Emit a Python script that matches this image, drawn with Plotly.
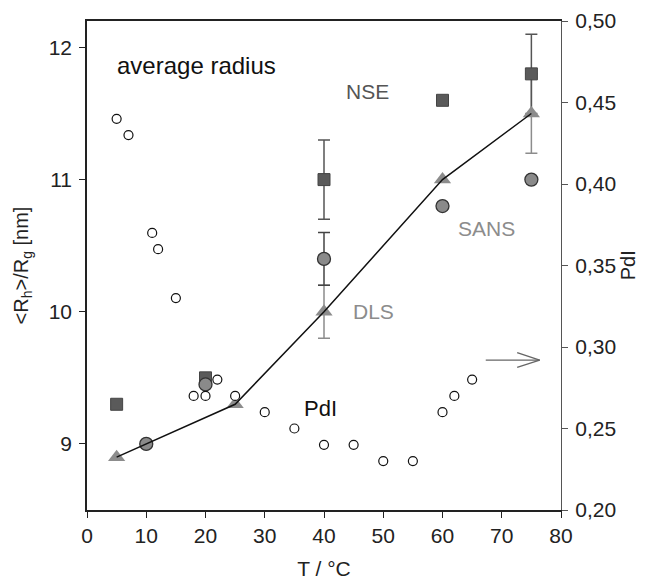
import plotly.graph_objects as go

# ---- data ----
dls_T = [5, 25, 40, 60, 75]
dls_R = [8.9, 9.3, 10.0, 11.0, 11.5]
dls_err_T = [40, 75]
dls_err_R = [10.0, 11.5]
dls_err = [0.2, 0.3]

nse_T = [5, 20, 40, 60, 75]
nse_R = [9.3, 9.5, 11.0, 11.6, 11.8]
nse_err_T = [40, 75]
nse_err_R = [11.0, 11.8]
nse_err = [0.3, 0.3]

sans_T = [10, 20, 40, 60, 75]
sans_R = [9.0, 9.45, 10.4, 10.8, 11.0]
sans_err_T = [40]
sans_err_R = [10.4]
sans_err = [0.2]

pdi_T = [5, 7, 11, 12, 15, 18, 20, 22, 25, 30, 35, 40, 45, 50, 55, 60, 62, 65]
pdi_V = [0.44, 0.43, 0.37, 0.36, 0.33, 0.27, 0.27, 0.28, 0.27, 0.26, 0.25,
         0.24, 0.24, 0.23, 0.23, 0.26, 0.27, 0.28]

x_ticks = [0, 10, 20, 30, 40, 50, 60, 70, 80]
y_ticks = [9, 10, 11, 12]
y2_ticks = [0.20, 0.25, 0.30, 0.35, 0.40, 0.45, 0.50]

FONT = "Liberation Sans, Arial, sans-serif"
NSE_C = "#5a5a5a"
SANS_C = "#8a8a8a"
DLS_C = "#8c8c8c"

fig = go.Figure()

# PdI open circles (right axis)
fig.add_trace(go.Scatter(x=pdi_T, y=pdi_V, yaxis="y2", mode="markers",
                         marker=dict(symbol="circle", size=9, color="white",
                                     line=dict(color="#111", width=1.2)),
                         showlegend=False))

# error bars
fig.add_trace(go.Scatter(x=dls_err_T, y=dls_err_R, mode="markers",
                         marker=dict(opacity=0, size=1),
                         error_y=dict(type="data", array=dls_err, color=DLS_C,
                                      thickness=1.5, width=6),
                         showlegend=False))
fig.add_trace(go.Scatter(x=sans_err_T, y=sans_err_R, mode="markers",
                         marker=dict(opacity=0, size=1),
                         error_y=dict(type="data", array=sans_err, color="#444",
                                      thickness=1.5, width=6),
                         showlegend=False))
fig.add_trace(go.Scatter(x=nse_err_T, y=nse_err_R, mode="markers",
                         marker=dict(opacity=0, size=1),
                         error_y=dict(type="data", array=nse_err, color="#555",
                                      thickness=1.5, width=6),
                         showlegend=False))

# NSE squares
fig.add_trace(go.Scatter(x=nse_T, y=nse_R, mode="markers",
                         marker=dict(symbol="square", size=12, color=NSE_C,
                                     line=dict(color="#444", width=1)),
                         showlegend=False))
# SANS circles
fig.add_trace(go.Scatter(x=sans_T, y=sans_R, mode="markers",
                         marker=dict(symbol="circle", size=13, color=SANS_C,
                                     line=dict(color="#333", width=1.3)),
                         showlegend=False))
# DLS triangles
fig.add_trace(go.Scatter(x=dls_T, y=dls_R, mode="markers",
                         marker=dict(symbol="triangle-up", size=15, color=DLS_C,
                                     line=dict(width=0)),
                         showlegend=False))
# DLS line
fig.add_trace(go.Scatter(x=dls_T, y=dls_R, mode="lines",
                         line=dict(color="#111", width=1.5),
                         showlegend=False))

annos = [
    dict(text="average radius", x=18.4, y=11.86, size=24, color="#111"),
    dict(text="NSE", x=47.4, y=11.67, size=21, color="#555"),
    dict(text="SANS", x=67.5, y=10.63, size=21, color="#8c8c8c"),
    dict(text="DLS", x=48.4, y=10.0, size=21, color="#8c8c8c"),
    dict(text="PdI", x=39.4, y=9.27, size=22, color="#111"),
]
annotations = [dict(text=a["text"], x=a["x"], y=a["y"], xref="x", yref="y",
                    showarrow=False, xanchor="center", yanchor="middle",
                    font=dict(family=FONT, size=a["size"], color=a["color"]))
               for a in annos]
# right axis title
annotations.append(dict(text="PdI", xref="paper", yref="paper", x=1.141, y=0.5,
                        textangle=-90, showarrow=False, xanchor="center",
                        yanchor="middle",
                        font=dict(family=FONT, size=20, color="#222")))

# arrow pointing to right axis
ARROW_C = "#666"
shapes = [
    dict(type="line", xref="x", yref="y2", x0=67.3, y0=0.292, x1=76.4, y1=0.292,
         line=dict(color=ARROW_C, width=1.3)),
    dict(type="line", xref="x", yref="y2", x0=72.6, y0=0.2965, x1=76.4, y1=0.292,
         line=dict(color=ARROW_C, width=1.3)),
    dict(type="line", xref="x", yref="y2", x0=72.6, y0=0.2875, x1=76.4, y1=0.292,
         line=dict(color=ARROW_C, width=1.3)),
]

# page body has an 8px default margin, so the figure is offset by 8px
fig.update_layout(
    width=637, height=575,
    margin=dict(l=79, r=84, t=13, b=73),
    paper_bgcolor="white", plot_bgcolor="white",
    separators=",.",
    font=dict(family=FONT, size=21, color="#111"),
    showlegend=False,
    annotations=annotations,
    shapes=shapes,
    xaxis=dict(range=[0, 80], tickvals=x_ticks, ticks="outside", ticklen=6,
               tickcolor="#222", showline=True, linecolor="#222", linewidth=1.5,
               mirror=True, showgrid=False, zeroline=False, automargin=False,
               tickfont=dict(size=21, color="#222"),
               title=dict(text="T / °C", font=dict(size=21, color="#222"))),
    yaxis=dict(range=[8.5, 12.2], tickvals=y_ticks, ticks="outside", ticklen=6,
               tickcolor="#222", showline=True, linecolor="#222", linewidth=1.5,
               showgrid=False, zeroline=False, automargin=False,
               ticklabelstandoff=3,
               tickfont=dict(size=21, color="#222"),
               title=dict(text="&lt;R<sub>h</sub>&gt;/R<sub>g</sub> [nm]",
                          font=dict(size=20, color="#222"))),
    yaxis2=dict(range=[0.2, 0.5], tickvals=y2_ticks, tickformat=".2f",
                overlaying="y", side="right", ticks="outside", ticklen=6,
                tickcolor="#555", showline=True, linecolor="#555", linewidth=1.2,
                showgrid=False, zeroline=False, automargin=False,
                ticklabelstandoff=3,
                tickfont=dict(size=21, color="#222")),
)

fig.write_html("out.html")
